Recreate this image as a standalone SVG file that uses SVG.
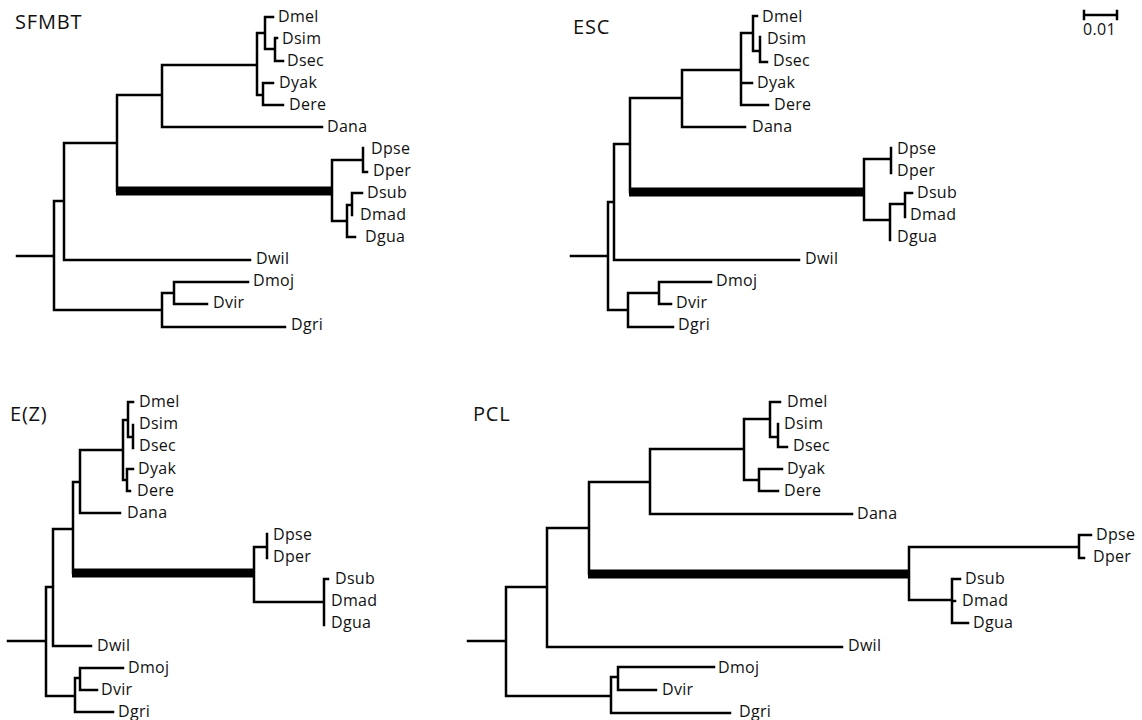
<svg xmlns="http://www.w3.org/2000/svg" width="1142" height="720" viewBox="0 0 1142 720">
<style>
.br{fill:none;stroke:#000;stroke-width:2.5;stroke-linecap:square;stroke-linejoin:miter}
.thick{fill:none;stroke:#000;stroke-width:9;stroke-linecap:butt}
.lb{font-family:"Open Sans","Noto Sans",sans-serif;font-size:16px;letter-spacing:0.3px;fill:#111}
.tt{font-family:"Open Sans","Noto Sans",sans-serif;font-size:20px;letter-spacing:0.8px;fill:#111}
</style>
<rect width="1142" height="720" fill="#fff"/>

<!-- SFMBT -->
<g id="sfmbt-title"><text class="tt" x="15" y="29">SFMBT</text></g>
<g id="sfmbt-connectors">
<path class="br" d="M17 256H54M54 201V310M54 201H64M64 143V260M64 260H250M64 143H117M117 95V191M117 95H162M162 65V127M162 127H322M162 65H257M257 33V95M257 33H265M265 17V49M265 17H273M265 49H275M275 38V61M275 38H277M275 61H283M257 95H263M263 83V105M263 83H273M263 105H283M332 160V221M332 160H363M363 148V172M363 172H367M332 221H347M347 205V237M347 237H355M347 205H352M352 193V215M352 193H362M54 310H162M162 293V327M162 327H285M162 293H174M174 282V304M174 282H248M174 304H207"/>
<path class="thick" d="M116 191H333"/>
</g>
<g id="sfmbt-Dmel"><text class="lb" x="278" y="22">Dmel</text></g>
<g id="sfmbt-Dsim"><text class="lb" x="282" y="44">Dsim</text></g>
<g id="sfmbt-Dsec"><text class="lb" x="287" y="66">Dsec</text></g>
<g id="sfmbt-Dyak"><text class="lb" x="279" y="88">Dyak</text></g>
<g id="sfmbt-Dere"><text class="lb" x="289" y="110">Dere</text></g>
<g id="sfmbt-Dana"><text class="lb" x="327" y="132">Dana</text></g>
<g id="sfmbt-Dpse"><text class="lb" x="371" y="154">Dpse</text></g>
<g id="sfmbt-Dper"><text class="lb" x="373" y="176">Dper</text></g>
<g id="sfmbt-Dsub"><text class="lb" x="367" y="198">Dsub</text></g>
<g id="sfmbt-Dmad"><text class="lb" x="360" y="220">Dmad</text></g>
<g id="sfmbt-Dgua"><text class="lb" x="365" y="242">Dgua</text></g>
<g id="sfmbt-Dwil"><text class="lb" x="256" y="264">Dwil</text></g>
<g id="sfmbt-Dmoj"><text class="lb" x="253" y="286">Dmoj</text></g>
<g id="sfmbt-Dvir"><text class="lb" x="213" y="308">Dvir</text></g>
<g id="sfmbt-Dgri"><text class="lb" x="291" y="330">Dgri</text></g>

<!-- ESC -->
<g id="esc-title"><text class="tt" x="573" y="34">ESC</text></g>
<g id="esc-connectors">
<path class="br" d="M571 256H608M608 202V310M608 202H614M614 144V260M614 260H799M614 144H630M630 98V192M630 98H682M682 70V127M682 127H745M682 70H741M741 33V105M741 83H752M741 105H768M741 33H753M753 16V51M753 16H757M753 51H760M760 37V62M760 62H767M864 159V220M864 159H891M891 148V173M864 220H890M890 204V240M890 204H905M905 193V217M905 193H912M608 310H628M628 293V327M628 327H673M628 293H659M659 282V304M659 282H711M659 304H671"/>
<path class="thick" d="M629 192H865"/>
</g>
<g id="esc-Dmel"><text class="lb" x="762" y="22">Dmel</text></g>
<g id="esc-Dsim"><text class="lb" x="767" y="44">Dsim</text></g>
<g id="esc-Dsec"><text class="lb" x="773" y="66">Dsec</text></g>
<g id="esc-Dyak"><text class="lb" x="757" y="88">Dyak</text></g>
<g id="esc-Dere"><text class="lb" x="774" y="110">Dere</text></g>
<g id="esc-Dana"><text class="lb" x="752" y="132">Dana</text></g>
<g id="esc-Dpse"><text class="lb" x="897" y="154">Dpse</text></g>
<g id="esc-Dper"><text class="lb" x="897" y="176">Dper</text></g>
<g id="esc-Dsub"><text class="lb" x="917" y="198">Dsub</text></g>
<g id="esc-Dmad"><text class="lb" x="910" y="220">Dmad</text></g>
<g id="esc-Dgua"><text class="lb" x="897" y="242">Dgua</text></g>
<g id="esc-Dwil"><text class="lb" x="805" y="264">Dwil</text></g>
<g id="esc-Dmoj"><text class="lb" x="716" y="286">Dmoj</text></g>
<g id="esc-Dvir"><text class="lb" x="676" y="308">Dvir</text></g>
<g id="esc-Dgri"><text class="lb" x="678" y="330">Dgri</text></g>

<!-- scale bar -->
<g id="scale-bar">
<path class="br" d="M1084 15H1117M1084 11V19M1117 11V19"/>
<text class="lb" x="1083" y="35">0.01</text>
</g>

<!-- E(Z) -->
<g id="ez-title"><text class="tt" x="10" y="421">E(Z)</text></g>
<g id="ez-connectors">
<path class="br" d="M8 641H46M46 587V696M46 587H53M53 529V646M53 646H91M53 529H73M73 482V573M73 482H80M80 450V513M80 513H120M80 450H123M123 420V480M123 420H128M128 402V437M128 402H133M128 437H133M133 425V448M123 480H127M127 469V491M127 469H133M127 491H130M254 547V602M254 547H267M267 534V558M254 602H324M324 579V625M324 579H328M46 696H75M75 678V712M75 712H113M75 678H80M80 668V690M80 668H123M80 690H97"/>
<path class="thick" d="M72 573H255"/>
</g>
<g id="ez-Dmel"><text class="lb" x="139" y="407">Dmel</text></g>
<g id="ez-Dsim"><text class="lb" x="139" y="429">Dsim</text></g>
<g id="ez-Dsec"><text class="lb" x="139" y="451">Dsec</text></g>
<g id="ez-Dyak"><text class="lb" x="138" y="474">Dyak</text></g>
<g id="ez-Dere"><text class="lb" x="137" y="496">Dere</text></g>
<g id="ez-Dana"><text class="lb" x="127" y="518">Dana</text></g>
<g id="ez-Dpse"><text class="lb" x="273" y="540">Dpse</text></g>
<g id="ez-Dper"><text class="lb" x="273" y="562">Dper</text></g>
<g id="ez-Dsub"><text class="lb" x="335" y="584">Dsub</text></g>
<g id="ez-Dmad"><text class="lb" x="331" y="606">Dmad</text></g>
<g id="ez-Dgua"><text class="lb" x="331" y="628">Dgua</text></g>
<g id="ez-Dwil"><text class="lb" x="97" y="651">Dwil</text></g>
<g id="ez-Dmoj"><text class="lb" x="128" y="673">Dmoj</text></g>
<g id="ez-Dvir"><text class="lb" x="101" y="695">Dvir</text></g>
<g id="ez-Dgri"><text class="lb" x="118" y="717">Dgri</text></g>

<!-- PCL -->
<g id="pcl-title"><text class="tt" x="473" y="421">PCL</text></g>
<g id="pcl-connectors">
<path class="br" d="M468 641H506M506 587V696M506 587H547M547 528V647M547 647H842M547 528H589M589 482V574M589 482H650M650 449V514M650 514H852M650 449H744M744 419V480M744 419H770M770 402V437M770 402H780M770 437H778M778 424V447M778 447H787M744 480H759M759 469V491M759 469H782M759 491H778M909 547V600M909 547H1079M1079 535V558M1079 535H1091M1079 558H1084M909 600H952M952 579V623M952 579H960M952 601H955M952 623H968M506 696H611M611 677V713M611 713H730M611 677H618M618 667V690M618 667H714M618 690H656"/>
<path class="thick" d="M588 574H910"/>
</g>
<g id="pcl-Dmel"><text class="lb" x="787" y="407">Dmel</text></g>
<g id="pcl-Dsim"><text class="lb" x="784" y="429">Dsim</text></g>
<g id="pcl-Dsec"><text class="lb" x="793" y="451">Dsec</text></g>
<g id="pcl-Dyak"><text class="lb" x="787" y="474">Dyak</text></g>
<g id="pcl-Dere"><text class="lb" x="784" y="496">Dere</text></g>
<g id="pcl-Dana"><text class="lb" x="857" y="519">Dana</text></g>
<g id="pcl-Dpse"><text class="lb" x="1096" y="540">Dpse</text></g>
<g id="pcl-Dper"><text class="lb" x="1093" y="562">Dper</text></g>
<g id="pcl-Dsub"><text class="lb" x="965" y="584">Dsub</text></g>
<g id="pcl-Dmad"><text class="lb" x="962" y="606">Dmad</text></g>
<g id="pcl-Dgua"><text class="lb" x="973" y="628">Dgua</text></g>
<g id="pcl-Dwil"><text class="lb" x="848" y="651">Dwil</text></g>
<g id="pcl-Dmoj"><text class="lb" x="718" y="673">Dmoj</text></g>
<g id="pcl-Dvir"><text class="lb" x="662" y="695">Dvir</text></g>
<g id="pcl-Dgri"><text class="lb" x="739" y="717">Dgri</text></g>
</svg>
